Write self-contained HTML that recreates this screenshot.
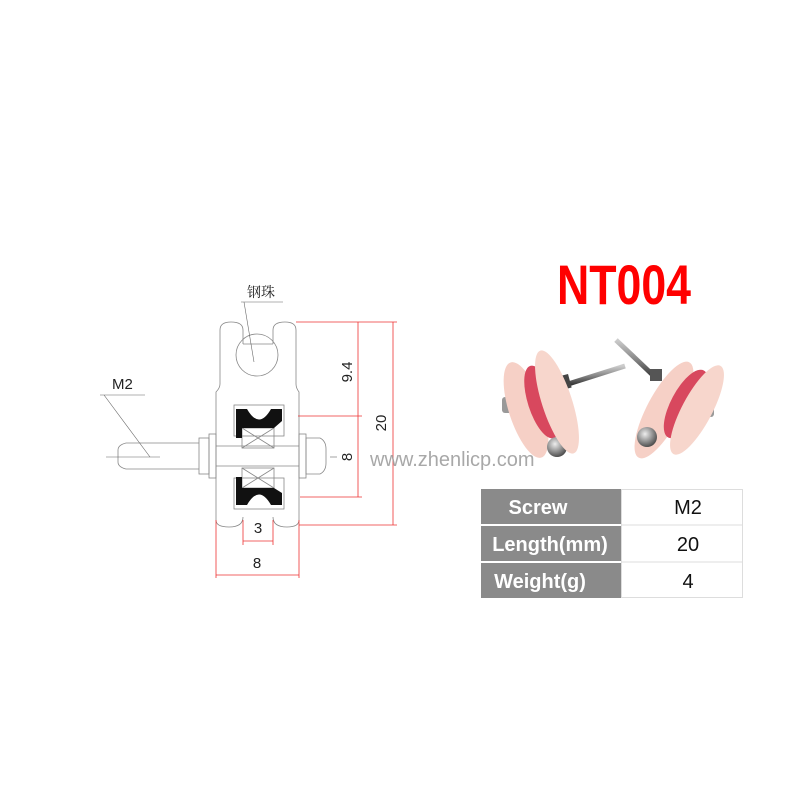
<!DOCTYPE html>
<html><head><meta charset="utf-8"><style>
html,body{margin:0;padding:0;background:#fff;}
svg{display:block;}
</style></head><body>
<svg width="800" height="800" viewBox="0 0 800 800" xmlns="http://www.w3.org/2000/svg">
<defs>
<radialGradient id="ball" cx="40%" cy="35%" r="70%"><stop offset="0" stop-color="#eee"/><stop offset="0.5" stop-color="#999"/><stop offset="1" stop-color="#444"/></radialGradient>
<linearGradient id="scr" x1="0" y1="0" x2="0" y2="1"><stop offset="0" stop-color="#ccc"/><stop offset="0.5" stop-color="#888"/><stop offset="1" stop-color="#333"/></linearGradient>
</defs>
<g fill="none" stroke="#888" stroke-width="0.8">
  <path d="M216 400 L216 392 Q220 388 220 384 L220 330 Q220 322 231 322 Q243 322 243 330 L243 344"/>
  <path d="M243 344 L273 344"/>
  <path d="M273 344 L273 330 Q273 322 285 322 Q296 322 296 330 L296 384 Q296 388 299 392 L299 520 Q299 527 287 527 Q273 527 273 517"/>
  <path d="M216 400 L216 520 Q216 527 229 527 Q243 527 243 517"/>
  <circle cx="257" cy="355" r="21"/>
  <rect x="234" y="405" width="50" height="31"/>
  <rect x="234" y="478" width="50" height="31"/>
  <rect x="242" y="428" width="32" height="20"/>
  <path d="M242 428 L274 448 M274 428 L242 448"/>
  <rect x="242" y="468" width="32" height="20"/>
  <path d="M242 468 L274 488 M274 468 L242 488"/>
  <path d="M216 446 L299 446 M216 466 L299 466"/>
  <rect x="209" y="434" width="7" height="44"/>
  <rect x="199" y="438" width="10" height="36"/>
  <path d="M199 443 L126 443 Q118 445 118 450 L118 462 Q118 467 126 469 L199 469"/>
  <rect x="299" y="434" width="7" height="44"/>
  <path d="M306 438 L320 438 Q326 441 326 449 L326 463 Q326 471 320 474 L306 474 Z"/>
</g>
<g stroke="#666" stroke-width="0.6" fill="none">
  <path d="M106 457 L160 457"/>
  <path d="M100 395 L145 395 M104 395 L150 457"/>
  <path d="M241 302 L283 302 M244 302 L254 362"/>
  <path d="M330 457 L337 457"/>
</g>
<path d="M236 409 L247 409 Q259 430 271 409 L282 409 L282 421 L274 428 L242 428 L242 438 L236 438 Z" fill="#111"/>
<path d="M236 505 L247 505 Q259 484 271 505 L282 505 L282 493 L274 488 L242 488 L242 477 L236 477 Z" fill="#111"/>
<g stroke="#e33" stroke-width="0.8" fill="none">
  <path d="M296 322 L397 322 M358 322 L358 416 M298 416 L362 416 M300 497 L362 497 M358 416 L358 497 M299 525 L397 525 M393 322 L393 525"/>
  <path d="M216 520 L216 578 M299 520 L299 578 M216 575 L299 575"/>
  <path d="M243 520 L243 545 M273 520 L273 545 M243 541 L273 541"/>
</g>
<g font-family="Liberation Sans, sans-serif" font-size="15" fill="#222">
  <text x="112" y="389">M2</text>
  <text x="258" y="533" text-anchor="middle">3</text>
  <text x="257" y="568" text-anchor="middle">8</text>
  <text transform="translate(352,372) rotate(-90)" text-anchor="middle">9.4</text>
  <text transform="translate(386,423) rotate(-90)" text-anchor="middle">20</text>
  <text transform="translate(352,457) rotate(-90)" text-anchor="middle">8</text>
  <text x="247" y="297" font-family="Liberation Serif, Noto Serif CJK SC, serif" font-size="14">钢珠</text>
</g>
<text x="557" y="304" font-family="Liberation Sans Narrow, Liberation Sans, sans-serif" font-weight="bold" font-size="56" fill="#f00" textLength="134" lengthAdjust="spacingAndGlyphs">NT004</text>
<g>
  <line x1="565" y1="385" x2="625" y2="366" stroke="url(#scr)" stroke-width="5"/>
  <rect x="560" y="375" width="10" height="14" fill="#444" transform="rotate(-15 565 382)"/>
  <rect x="502" y="397" width="14" height="16" rx="3" fill="#999"/>
  <ellipse cx="526" cy="410" rx="17" ry="50" fill="#f6d0c6" transform="rotate(-18 526 410)"/>
  <ellipse cx="542" cy="402" rx="14" ry="38" fill="#d8485e" transform="rotate(-18 542 402)"/>
  <circle cx="557" cy="447" r="10" fill="url(#ball)"/>
  <ellipse cx="557" cy="402" rx="15" ry="54" fill="#f7d6cc" transform="rotate(-18 557 402)"/>
</g>
<g>
  <line x1="616" y1="340" x2="656" y2="378" stroke="url(#scr)" stroke-width="5"/>
  <rect x="650" y="369" width="12" height="12" fill="#555"/>
  <rect x="700" y="403" width="14" height="14" rx="3" fill="#999"/>
  <ellipse cx="664" cy="410" rx="17" ry="54" fill="#f6d0c6" transform="rotate(28 664 410)"/>
  <ellipse cx="686" cy="404" rx="15" ry="38" fill="#d8485e" transform="rotate(28 686 404)"/>
  <circle cx="647" cy="437" r="10" fill="url(#ball)"/>
  <ellipse cx="697" cy="410" rx="15" ry="50" fill="#f7d6cc" transform="rotate(28 697 410)"/>
</g>
<text x="370" y="466" font-family="Liberation Sans, sans-serif" font-size="20" fill="#999" opacity="0.85">www.zhenlicp.com</text>
<g>
  <rect x="481" y="489" width="140" height="35" fill="#8a8a8a"/>
  <rect x="481" y="526" width="140" height="35" fill="#8a8a8a"/>
  <rect x="481" y="563" width="140" height="35" fill="#8a8a8a"/>
  <rect x="621.5" y="489.5" width="121" height="108" fill="none" stroke="#ddd"/>
  <path d="M621 525 L743 525 M621 562 L743 562" stroke="#ddd"/>
  <g font-family="Liberation Sans, sans-serif" font-weight="bold" font-size="20" fill="#fff" text-anchor="middle">
    <text x="538" y="514">Screw</text>
    <text x="550" y="551">Length(mm)</text>
    <text x="540" y="588">Weight(g)</text>
  </g>
  <g font-family="Liberation Sans, sans-serif" font-size="20" fill="#111" text-anchor="middle">
    <text x="688" y="514">M2</text>
    <text x="688" y="551">20</text>
    <text x="688" y="588">4</text>
  </g>
</g>
</svg>
</body></html>
